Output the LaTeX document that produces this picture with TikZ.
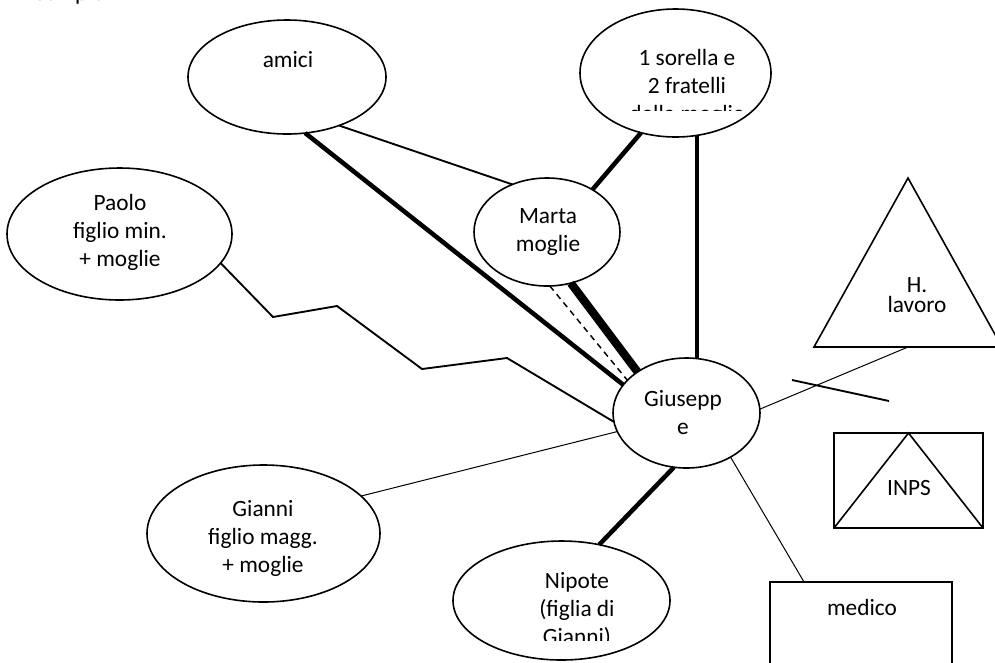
\documentclass[tikz,border=0pt]{standalone}
\usepackage{fontspec}
\setmainfont{Carlito}
\usetikzlibrary{shapes.geometric}
\begin{document}
\begin{tikzpicture}[x=0.75pt,y=-0.75pt,
  every node/.style={font=\fontsize{17.5}{21}\selectfont},
  oval/.style 2 args={ellipse,draw,line width=1.2pt,outer sep=0pt,inner sep=0pt,
    minimum width=#1*0.75pt,minimum height=#2*0.75pt},
  box/.style 2 args={rectangle,draw,line width=1.2pt,outer sep=0pt,inner sep=0pt,
    minimum width=#1*0.75pt,minimum height=#2*0.75pt},
  lbl/.style={align=center,anchor=base,inner sep=0pt},
  weak/.style={line width=0.75pt},
  mid/.style={line width=1.4pt},
  strong/.style={line width=3.4pt},
  verystrong/.style={line width=6.2pt},
  stress/.style={line width=1.1pt,dash pattern=on 4.5pt off 3.5pt}]
\useasboundingbox (0,0) rectangle (995,662);

% title, cut by the top edge of the page
\node[anchor=base west,inner sep=0pt] (title) at (24,0.3) {Esempio};

% people
\node[oval={198}{114}] (amici) at (287,77) {};
\node[oval={191}{128}] (sorella) at (675.5,73) {};
\node[oval={146}{108}] (marta) at (547,232) {};
\node[oval={225}{132}] (paolo) at (119.5,234) {};
\node[oval={147}{110}] (giuseppe) at (686.5,413) {};
\node[oval={233}{137}] (gianni) at (263.5,533.5) {};
\node[oval={217}{119}] (nipote) at (561.5,600.5) {};

% institutions
\draw[line width=1.2pt] (908,178) -- (814,347) -- (1002,347) -- cycle;
\coordinate (lavoro) at (908,347);
\node[box={149}{95}] (inps) at (908.5,480.5) {};
\draw[line width=1.2pt] (inps.south west) -- (inps.north) -- (inps.south east);
\node[box={182}{118}] (medico) at (861,641) {};

% texts (a multi-line node sits on the baseline of its last line)
\node[lbl] (amicit) at (288,67) {amici};
\begin{scope}
  \clip (560,0) rectangle (790,110);
  \node[lbl] (sorellat) at (687,121) {1 sorella e\\2 fratelli\\della moglie};
\end{scope}
\node[lbl] (martat) at (548,251) {Marta\\moglie};
\node[lbl] (paolot) at (120,266) {Paolo\\figlio min.\\+ moglie};
\node[lbl] (giuseppet) at (683,434) {Giusepp\\e};
\node[lbl] (giannit) at (263,572) {Gianni\\figlio magg.\\+ moglie};
\begin{scope}
  \clip (440,540) rectangle (690,640);
  \node[lbl] (nipotet) at (577,644) {Nipote\\(figlia di\\Gianni)};
\end{scope}
\node[lbl] (lavorot1) at (917,292) {H.};
\node[lbl] (lavorot2) at (917,312) {lavoro};
\node[lbl] (inpst) at (909,495) {INPS};
\node[lbl] (medicot) at (862,615) {medico};

% ties
\draw[strong] (amici.288) -- (giuseppe.156.5);
\draw[mid] (amici.317) -- (marta.126);
\draw[strong] (sorella.240) -- (marta.43.7);
\draw[strong] (sorella.289) -- (sorella.289 |- giuseppe.north);
\draw[verystrong] (marta.295) -- (giuseppe.140.7);
\draw[stress] (marta.273) -- (giuseppe.151.8);
\draw[mid] (paolo.344) -- (273,317) -- (337,306) -- (422,369) -- (507,358) -- (giuseppe.187);
\draw[weak] (gianni.21.3) -- (giuseppe.195);
\draw[strong] (giuseppe.257.8) -- (nipote.56);
\draw[weak] (giuseppe.3.9) -- (lavoro);
\draw[mid] (792,380) -- (889,401);
\draw[weak] (giuseppe.315.3) -- (medico.134.5);
\end{tikzpicture}
\end{document}
